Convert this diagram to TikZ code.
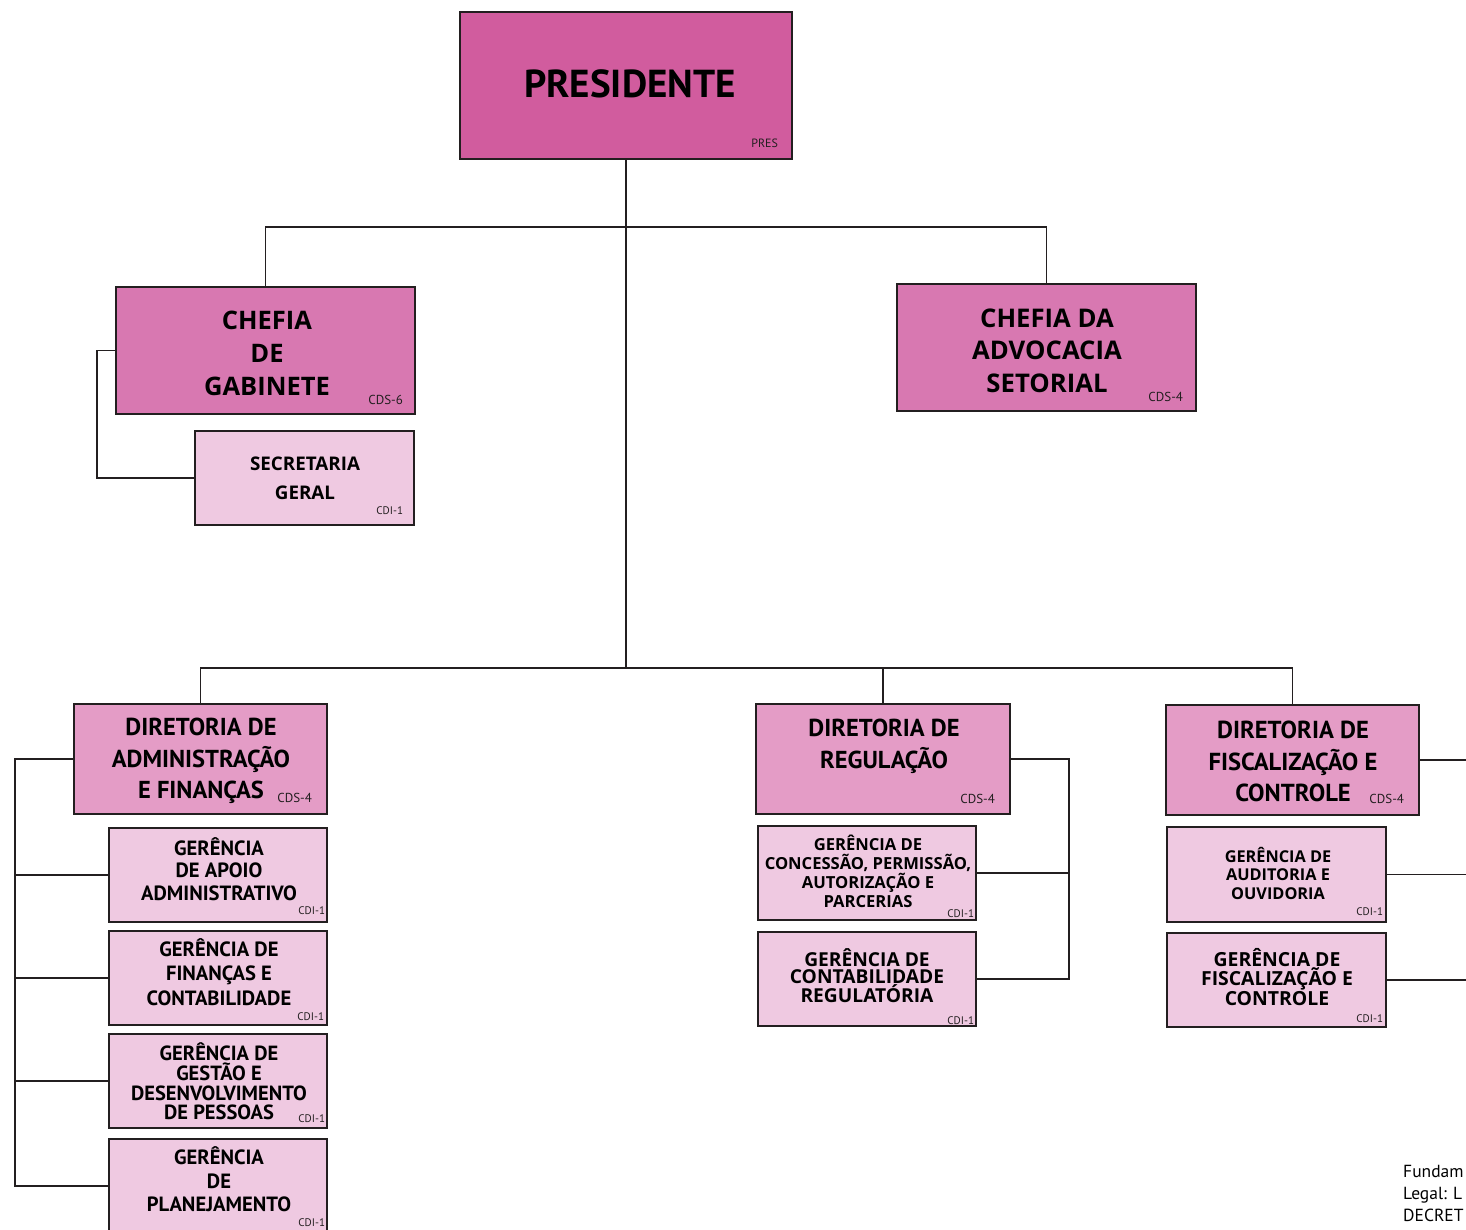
\documentclass[tikz,border=0pt]{standalone}
\usepackage{fontspec}
\setmainfont{PT Sans}
\newfontfamily\widefont{Open Sans}
\definecolor{presC}{HTML}{D15C9E}
\definecolor{chefC}{HTML}{D878B1}
\definecolor{dirC}{HTML}{E49CC6}
\definecolor{gerC}{HTML}{EFC9E1}
\definecolor{lc}{HTML}{231F20}
\begin{document}
\begin{tikzpicture}[x=1pt,y=-1pt,
  box/.style={draw=lc, line width=1.4pt, inner sep=0pt, outer sep=0pt},
  presbox/.style={box, fill=presC},
  chefbox/.style={box, fill=chefC, minimum width=299pt, minimum height=127pt},
  dirbox/.style={box, fill=dirC, minimum width=253pt, minimum height=110pt},
  gerbox/.style={box, fill=gerC, minimum width=218pt, minimum height=94pt},
  conn/.style={draw=lc, line width=1.3pt},
  txt/.style={inner sep=0pt, outer sep=0pt, align=center, text=black},
  ntxt/.style={txt, font=\fontsize{#1}{#1}\selectfont\bfseries},
  code/.style={inner sep=0pt, outer sep=0pt, anchor=base east, text=lc, font=\fontsize{#1}{#1}\selectfont},
  foot/.style={inner sep=0pt, anchor=base west, text=black, font=\fontsize{17.5}{17.5}\selectfont},
]
\path[use as bounding box, clip] (0,0) rectangle (1466,1230);
\fill[white] (0,0) rectangle (1466,1230);

% ---------- boxes ----------
\node[presbox, minimum width=332pt, minimum height=147pt] (pres) at (626,85.5) {};
\node[chefbox] (chefG) at (265.5,350.5) {};
\node[gerbox, minimum width=219pt] (secG) at (304.5,478) {};
\node[chefbox] (chefA) at (1046.5,347.5) {};

\node[dirbox] (dAF) at (200.5,759) {};
\node[gerbox] (g1) at (218,875) {};
\node[gerbox] (g2) at (218,978) {};
\node[gerbox] (g3) at (218,1081) {};
\node[gerbox] (g4) at (218,1186) {};

\node[dirbox, minimum width=254pt] (dReg) at (883,759) {};
\node[gerbox] (gCP) at (867,873) {};
\node[gerbox] (gCR) at (867,979) {};

\node[dirbox] (dFC) at (1292.5,760) {};
\node[gerbox, minimum width=219pt, minimum height=95pt] (gAO) at (1276.5,874.5) {};
\node[gerbox, minimum width=219pt] (gFC) at (1276.5,980) {};

% ---------- connectors ----------
\coordinate (ub) at (626,227);
\coordinate (bus) at (626,668);
\coordinate (edge) at (1470,0);
\draw[conn] (pres.south) -- (bus);
\draw[conn] (chefG.north) |- (ub) -| (chefA.north);
\draw[conn] (chefG.west) -- ++(-19,0) coordinate (spG) |- (secG.west);
\draw[conn] (dAF.north) |- (bus) -| (dFC.north);
\draw[conn] (dReg.north) -- (dReg.north |- bus);
% left column
\draw[conn] (dAF.west) -- ++(-59,0) coordinate (spL) |- (g4.west);
\draw[conn] (spL |- g1.west) -- (g1.west);
\draw[conn] (spL |- g2.west) -- (g2.west);
\draw[conn] (spL |- g3.west) -- (g3.west);
% regulacao
\draw[conn] (dReg.east) -- ++(59,0) coordinate (spR) |- (gCR.east);
\draw[conn] (gCP.east) -- (gCP.east -| spR);
% fiscalizacao (goes off the page)
\draw[conn] (dFC.east) -- (dFC.east -| edge);
\draw[conn] (gAO.east) -- (gAO.east -| edge);
\draw[conn] (gFC.east) -- (gFC.east -| edge);

% ---------- texts ----------
\node[ntxt=39] (presT) at (630,83.5) {PRESIDENTE};
\node[code=12] (presK) at ([shift={(-14,-11.5)}]pres.south east) {PRES};

\node[txt, font=\widefont\fontsize{25.5}{33}\selectfont\bfseries] (chefGT) at (267,353) {CHEFIA\\DE\\GABINETE};
\node[code=13] (chefGK) at ([shift={(-12,-10)}]chefG.south east) {CDS-6};

\node[txt, font=\widefont\fontsize{18.8}{29}\selectfont\bfseries] (secGT) at (305,478.5) {SECRETARIA\\GERAL};
\node[code=11] (secGK) at ([shift={(-11,-11)}]secG.south east) {CDI-1};

\node[txt, font=\widefont\fontsize{25.7}{32.5}\selectfont\bfseries] (chefAT) at (1047,350.5) {CHEFIA DA\\ADVOCACIA\\SETORIAL};
\node[code=13] (chefAK) at ([shift={(-13,-10)}]chefA.south east) {CDS-4};

\node[txt, font=\fontsize{24.5}{31.5}\selectfont\bfseries] (dAFT) at (201,761) {DIRETORIA DE\\ADMINISTRAÇÃO\\E FINANÇAS};
\node[code=13] (dAFK) at ([shift={(-15,-12)}]dAF.south east) {CDS-4};

\node[txt, font=\fontsize{20.6}{22.5}\selectfont\bfseries] (g1T) at (219,869) {GERÊNCIA\\DE APOIO\\ADMINISTRATIVO};
\node[code=11] (g1K) at ([shift={(-2,-8)}]g1.south east) {CDI-1};

\node[txt, font=\fontsize{20.6}{24.5}\selectfont\bfseries] (g2T) at (219,972) {GERÊNCIA DE\\FINANÇAS E\\CONTABILIDADE};
\node[code=11] (g2K) at ([shift={(-3,-5)}]g2.south east) {CDI-1};

\node[txt, font=\fontsize{20.5}{19.7}\selectfont\bfseries] (g3T) at (219,1081.5) {GERÊNCIA DE\\GESTÃO E\\DESENVOLVIMENTO\\DE PESSOAS};
\node[code=11] (g3K) at ([shift={(-2,-6)}]g3.south east) {CDI-1};

\node[txt, font=\fontsize{20.6}{23.5}\selectfont\bfseries] (g4T) at (219,1179.5) {GERÊNCIA\\DE\\PLANEJAMENTO};
\node[code=11] (g4K) at ([shift={(-2,-7)}]g4.south east) {CDI-1};

\node[txt, font=\fontsize{24.5}{32}\selectfont\bfseries] (dRegT) at (884,746) {DIRETORIA DE\\REGULAÇÃO};
\node[code=13] (dRegK) at ([shift={(-15,-11)}]dReg.south east) {CDS-4};

\node[txt, font=\widefont\fontsize{16.6}{19}\selectfont\bfseries] (gCPT) at (868,871.5) {GERÊNCIA DE\\CONCESSÃO, PERMISSÃO,\\AUTORIZAÇÃO E\\PARCERIAS};
\node[code=11] (gCPK) at ([shift={(-2,-3)}]gCP.south east) {CDI-1};

\node[txt, font=\widefont\fontsize{19.2}{17}\selectfont\bfseries] (gCRT) at (867,976) {GERÊNCIA DE\\CONTABILIDADE\\REGULATÓRIA};
\node[code=11] (gCRK) at ([shift={(-2,-2)}]gCR.south east) {CDI-1};

\node[txt, font=\fontsize{24.6}{31.5}\selectfont\bfseries] (dFCT) at (1293,761.5) {DIRETORIA DE\\FISCALIZAÇÃO E\\CONTROLE};
\node[code=13] (dFCK) at ([shift={(-15,-12)}]dFC.south east) {CDS-4};

\node[txt, font=\widefont\fontsize{16.3}{18.5}\selectfont\bfseries] (gAOT) at (1278,873) {GERÊNCIA DE\\AUDITORIA E\\OUVIDORIA};
\node[code=11] (gAOK) at ([shift={(-3,-7)}]gAO.south east) {CDI-1};

\node[txt, font=\widefont\fontsize{19.4}{17.5}\selectfont\bfseries] (gFCT) at (1277,977) {GERÊNCIA DE\\FISCALIZAÇÃO E\\CONTROLE};
\node[code=11] (gFCK) at ([shift={(-3,-5)}]gFC.south east) {CDI-1};

% ---------- footer (cut at the page edge, as in the reference) ----------
\node[foot] (f1) at (1403,1177.5) {Fundam};
\node[foot] (f2) at (1403,1199.5) {Legal: L};
\node[foot] (f3) at (1403,1221.5) {DECRET};
\end{tikzpicture}
\end{document}
